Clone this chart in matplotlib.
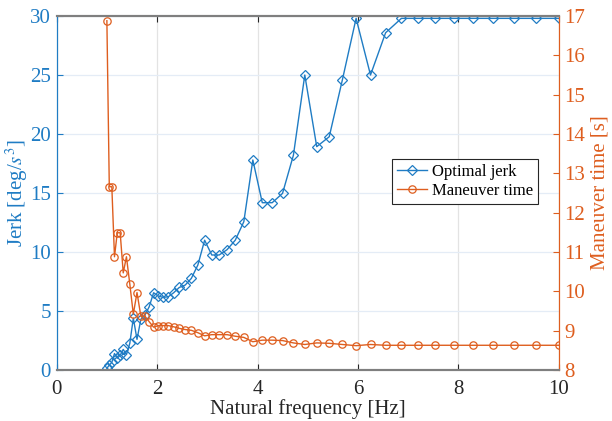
import numpy as np
import matplotlib
matplotlib.use("Agg")
import matplotlib.pyplot as plt

# natural frequency samples (log spaced from 1 to 10 Hz, 50 points)
freq = np.logspace(0, 1, 50)

jerk = [0.15, 0.42, 0.65, 1.4, 1.0, 1.25, 1.75, 1.3, 2.26, 4.4,
        2.6, 4.3, 4.66, 5.36, 6.55, 6.27, 6.16, 6.21, 6.55, 7.0,
        7.2, 7.77, 8.9, 11.0, 9.75, 9.75, 10.2, 11.0, 12.57, 17.8,
        14.18, 14.18, 14.97, 18.2, 25.0, 18.93, 19.77, 24.58, 29.8, 25.0,
        28.58, 29.8, 29.8, 29.8, 29.8, 29.8, 29.8, 29.8, 29.8, 29.8]

man_time = [16.88, 12.66, 12.66, 10.88, 11.49, 11.49, 10.47, 10.88, 10.19, 9.42,
            9.97, 9.37, 9.37, 9.23, 9.09, 9.13, 9.13, 9.13, 9.10, 9.06,
            9.03, 9.01, 8.95, 8.87, 8.90, 8.90, 8.90, 8.86, 8.83, 8.72,
            8.76, 8.76, 8.75, 8.69, 8.65, 8.69, 8.68, 8.65, 8.62, 8.65,
            8.63, 8.63, 8.63, 8.63, 8.63, 8.63, 8.63, 8.63, 8.63, 8.63]

blue = "#1f7cc4"
orange = "#de5e1f"

plt.rcParams['font.family'] = ['Liberation Serif', 'DejaVu Serif']
plt.rcParams['mathtext.fontset'] = 'stix'
plt.rcParams['font.size'] = 15

fig = plt.figure(figsize=(6.12, 4.21), dpi=100)
ax = fig.add_axes([0.0926, 0.121, 0.8204, 0.841])
ax2 = ax.twinx()

l1, = ax.plot(freq, jerk, color=blue, lw=1.0, marker="D", ms=4.6,
              mfc="none", mec=blue, mew=0.9, label="Optimal jerk")
l2, = ax2.plot(freq, man_time, color=orange, lw=1.0, marker="o", ms=5.3,
               mfc="none", mec=orange, mew=0.9, label="Maneuver time")

ax.set_xlim(0, 10)
ax.set_ylim(0, 30)
ax2.set_ylim(8, 17)
ax.set_xticks(range(0, 11, 2))
ax.set_yticks(range(0, 31, 5))
ax2.set_yticks(range(8, 18))

ax.xaxis.grid(True, color="#e3e3e3", lw=0.9)
ax.yaxis.grid(True, color="#e4ecf6", lw=0.9)
ax.set_axisbelow(True)

ax.tick_params(axis="x", direction="in", colors="#262626", length=4, top=True,
               labelsize=15, pad=7)
ax.tick_params(axis="y", direction="in", colors=blue, length=4, labelsize=15, pad=4)
ax2.tick_params(axis="y", direction="in", colors=orange, length=4, labelsize=15, pad=4)

for a in (ax, ax2):
    a.spines["top"].set_color("#7f7f7f")
    a.spines["bottom"].set_color("#7f7f7f")
    a.spines["top"].set_linewidth(1.5)
    a.spines["bottom"].set_linewidth(1.5)
    a.spines["left"].set_color(blue)
    a.spines["right"].set_color(orange)

ax.set_xlabel("Natural frequency [Hz]", color="#262626", fontsize=15, labelpad=0)
ax.set_ylabel(r"Jerk [deg/$s^3$]", color=blue, fontsize=15, labelpad=0)
ax2.set_ylabel("Maneuver time [s]", color=orange, fontsize=15, labelpad=4)

leg = ax2.legend(handles=[l1, l2], loc="upper left", bbox_to_anchor=(0.667, 0.597),
                 fancybox=False, edgecolor="#262626", framealpha=1, fontsize=12,
                 handlelength=1.8, borderpad=0.3, labelspacing=0.2,
                 handletextpad=0.3, borderaxespad=0)
leg.get_frame().set_linewidth(0.8)

fig.savefig("out.png", dpi=100)
